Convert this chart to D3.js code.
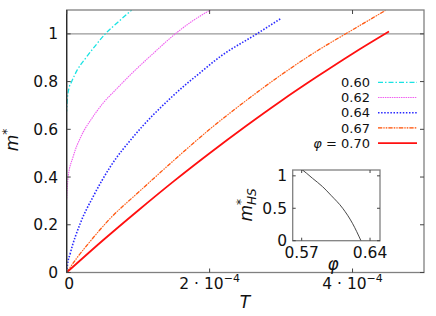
<!DOCTYPE html>
<html>
<head>
<meta charset="utf-8">
<script src="https://cdn.jsdelivr.net/npm/d3@7"></script>
<style>
  body { margin: 0; background: #fff; }
</style>
</head>
<body>
<div id="chart"></div>
<script>
// T values in units of 1e-4, m* values
const T60 = [0, 0.01, 0.03, 0.07, 0.15, 0.26, 0.4, 0.54, 0.72, 0.91];
const M60 = [0.675, 0.73, 0.77, 0.80, 0.85, 0.896, 0.95, 1.0, 1.05, 1.1];
const T62 = [0, 0.02, 0.09, 0.21, 0.35, 0.51, 0.7, 0.89, 1.2, 1.52, 1.75, 2.01];
const M62 = [0.31, 0.40, 0.485, 0.576, 0.645, 0.71, 0.77, 0.828, 0.915, 1.0, 1.052, 1.1];
const T64 = [0, 0.01, 0.05, 0.19, 0.37, 0.61, 0.95, 1.45, 1.87, 2.15, 2.66, 3.0];
const M64 = [0, 0.03, 0.08, 0.206, 0.318, 0.443, 0.575, 0.73, 0.838, 0.905, 1.0, 1.065];
const T67 = [0, 0.14, 0.3, 0.61, 1.0, 1.5, 2.0, 2.5, 3.0, 3.5, 4.0, 4.46];
const M67 = [0, 0.06, 0.12, 0.227, 0.335, 0.47, 0.60, 0.718, 0.828, 0.928, 1.017, 1.098];
const T70 = [0, 0.5, 1.0, 1.5, 2.0, 2.5, 3.0, 3.5, 4.0, 4.51];
const M70 = [0, 0.133, 0.26, 0.383, 0.50, 0.612, 0.719, 0.82, 0.917, 1.01];

const seriesNames = ['0.60', '0.62', '0.64', '0.67', '0.70'];
const xTicks = [0, 2, 4];
const yTicks = [0, 0.2, 0.4, 0.6, 0.8, 1];

// inset: m*_HS vs phi
const insetPhi = [0.57, 0.575, 0.581, 0.5914, 0.60, 0.612, 0.622, 0.6307];
const insetM = [1.10, 1.04, 0.963, 0.833, 0.70, 0.50, 0.268, 0.0];
const insetXTicks = [0.57, 0.64];
const insetYTicks = [0, 0.5, 1];

const width = 436, height = 316;
const margin = { top: 10, right: 12, bottom: 43.5, left: 66.7 };
const fs = 15.5;
const font = '"DejaVu Sans", sans-serif';

const svg = d3.select('#chart').append('svg')
    .attr('width', width)
    .attr('height', height)
    .attr('font-family', font);

function txt(sel) {
    return sel.append('text').attr('fill', '#111');
}

const x = d3.scaleLinear().domain([0, 5]).range([margin.left, width - margin.right]);
const y = d3.scaleLinear().domain([0, 1.1]).range([height - margin.bottom, margin.top]);

svg.append('clipPath').attr('id', 'clip')
    .append('rect')
    .attr('x', x(0)).attr('y', y(1.1))
    .attr('width', x(5) - x(0)).attr('height', y(0) - y(1.1));

// m = 1 line
svg.append('line')
    .attr('x1', x(0)).attr('x2', x(5))
    .attr('y1', y(1)).attr('y2', y(1))
    .attr('stroke', '#999').attr('stroke-width', 1.4);

const styles = [
    { T: T60, M: M60, color: '#19e3e3', dash: '5,2,1.5,2', w: 1.3 },
    { T: T62, M: M62, color: '#f060f0', dash: '1.5,0.8', w: 1.1 },
    { T: T64, M: M64, color: '#2828ff', dash: '1.5,1.6', w: 1.6 },
    { T: T67, M: M67, color: '#ff5a14', dash: '4,1.5,1,1.5,1,1.5', w: 1.3 },
    { T: T70, M: M70, color: '#ff1010', dash: null, w: 1.8 }
];

const line = d3.line()
    .x(d => x(d[0]))
    .y(d => y(d[1]))
    .curve(d3.curveMonotoneX);

const curves = svg.append('g').attr('clip-path', 'url(#clip)');
styles.forEach((s, i) => {
    const pts = s.T.map((t, j) => [t, s.M[j]]);
    if (i === 3) {
        curves.append('path')
            .attr('d', line(pts))
            .attr('fill', 'none')
            .attr('stroke', '#ffb08a')
            .attr('stroke-width', 0.8);
    }
    curves.append('path')
        .attr('d', line(pts))
        .attr('fill', 'none')
        .attr('stroke', s.color)
        .attr('stroke-width', s.w)
        .attr('stroke-dasharray', s.dash)
        .attr('stroke-dashoffset', i === 0 ? 3 : 0);
});

// frame
svg.append('rect')
    .attr('x', x(0)).attr('y', y(1.1))
    .attr('width', x(5) - x(0)).attr('height', y(0) - y(1.1))
    .attr('fill', 'none').attr('stroke', '#808080').attr('stroke-width', 1.3);
svg.append('line')
    .attr('x1', x(0)).attr('x2', x(0))
    .attr('y1', y(0)).attr('y2', y(1.1))
    .attr('stroke', '#222').attr('stroke-width', 1.2);

// ticks
const tl = 4;
yTicks.forEach(v => {
    svg.append('line').attr('x1', x(0)).attr('x2', x(0) + tl)
        .attr('y1', y(v)).attr('y2', y(v)).attr('stroke', '#444');
    svg.append('line').attr('x1', x(5)).attr('x2', x(5) - tl)
        .attr('y1', y(v)).attr('y2', y(v)).attr('stroke', '#444');
    txt(svg)
        .attr('x', 58).attr('y', y(v)).attr('dy', '0.36em')
        .attr('text-anchor', 'end')
        .style('font-size', fs + 'px')
        .text(v === 0 || v === 1 ? String(v) : v.toFixed(1));
});
xTicks.forEach(v => {
    svg.append('line').attr('x1', x(v)).attr('x2', x(v))
        .attr('y1', y(0)).attr('y2', y(0) - tl).attr('stroke', '#444');
    svg.append('line').attr('x1', x(v)).attr('x2', x(v))
        .attr('y1', y(1.1)).attr('y2', y(1.1) + tl).attr('stroke', '#444');
    const t = txt(svg)
        .attr('x', x(v) + (v === 0 ? 2.5 : 0)).attr('y', 289)
        .attr('text-anchor', 'middle')
        .style('font-size', fs + 'px');
    if (v === 0) {
        t.text('0');
    } else {
        t.append('tspan').text(v + ' \u00b7 10');
        t.append('tspan').attr('dy', -7).style('font-size', '11px').text('\u22124');
    }
});

// axis labels
txt(svg)
    .attr('x', 245).attr('y', 308)
    .attr('text-anchor', 'middle')
    .style('font-size', '17px').style('font-style', 'italic')
    .text('T');

const yl = txt(svg)
    .attr('transform', 'translate(18,140) rotate(-90)')
    .attr('text-anchor', 'middle')
    .style('font-size', '17px').style('font-style', 'italic');
yl.append('tspan').text('m');
yl.append('tspan').attr('dy', -7).style('font-size', '12px').style('font-style', 'normal').text('*');

// legend
const legY0 = 82.3, legStep = 15.2;
styles.forEach((s, i) => {
    const ly = legY0 + i * legStep;
    const t = txt(svg)
        .attr('x', 370).attr('y', ly).attr('dy', '0.36em')
        .attr('text-anchor', 'end')
        .style('font-size', '13px');
    if (i === 4) {
        t.append('tspan').style('font-style', 'italic').text('\u03c6');
        t.append('tspan').text(' = ' + seriesNames[i]);
    } else {
        t.text(seriesNames[i]);
    }
    if (i === 3) {
        svg.append('line').attr('x1', 378).attr('x2', 417).attr('y1', ly).attr('y2', ly)
            .attr('stroke', '#ffb08a').attr('stroke-width', 0.8);
    }
    svg.append('line')
        .attr('x1', 378).attr('x2', 417)
        .attr('y1', ly).attr('y2', ly)
        .attr('stroke', s.color)
        .attr('stroke-width', s.w)
        .attr('stroke-dasharray', s.dash);
});

// inset
const ix = d3.scaleLinear().domain([0.5608, 0.6502]).range([292.7, 380]);
const iy = d3.scaleLinear().domain([0, 1.09]).range([240.7, 170]);
const inset = svg.append('g');
inset.append('clipPath').attr('id', 'iclip')
    .append('rect').attr('x', 292.7).attr('y', 170).attr('width', 87.3).attr('height', 70.7);
inset.append('rect')
    .attr('x', 292.7).attr('y', 170).attr('width', 87.3).attr('height', 70.7)
    .attr('fill', '#fff').attr('stroke', '#808080').attr('stroke-width', 1.3);
inset.append('path')
    .attr('clip-path', 'url(#iclip)')
    .attr('d', d3.line().x(d => ix(d[0])).y(d => iy(d[1])).curve(d3.curveMonotoneX)(
        insetPhi.map((p, i) => [p, insetM[i]])))
    .attr('fill', 'none').attr('stroke', '#333').attr('stroke-width', 0.9);
insetYTicks.forEach(v => {
    inset.append('line').attr('x1', 292.7).attr('x2', 295.7)
        .attr('y1', iy(v)).attr('y2', iy(v)).attr('stroke', '#444');
    inset.append('line').attr('x1', 380).attr('x2', 377)
        .attr('y1', iy(v)).attr('y2', iy(v)).attr('stroke', '#444');
    txt(inset)
        .attr('x', 287).attr('y', iy(v)).attr('dy', '0.36em')
        .attr('text-anchor', 'end')
        .style('font-size', fs + 'px')
        .text(String(v));
});
insetXTicks.forEach(v => {
    inset.append('line').attr('x1', ix(v)).attr('x2', ix(v))
        .attr('y1', 240.7).attr('y2', 237.7).attr('stroke', '#444');
    inset.append('line').attr('x1', ix(v)).attr('x2', ix(v))
        .attr('y1', 170).attr('y2', 173).attr('stroke', '#444');
    txt(inset)
        .attr('x', ix(v)).attr('y', 258)
        .attr('text-anchor', 'middle')
        .style('font-size', fs + 'px')
        .text(v.toFixed(2));
});
txt(inset)
    .attr('x', 333).attr('y', 270)
    .attr('text-anchor', 'middle')
    .style('font-size', '17px').style('font-style', 'italic')
    .text('\u03c6');
const iyl = txt(inset)
    .attr('transform', 'translate(252,205) rotate(-90)')
    .attr('text-anchor', 'middle')
    .style('font-size', '17px').style('font-style', 'italic');
iyl.append('tspan').text('m');
iyl.append('tspan').attr('dy', -7).style('font-size', '12px').style('font-style', 'normal').text('*');
iyl.append('tspan').attr('dx', -6).attr('dy', 11).style('font-size', '12px').text('HS');
</script>
</body>
</html>
